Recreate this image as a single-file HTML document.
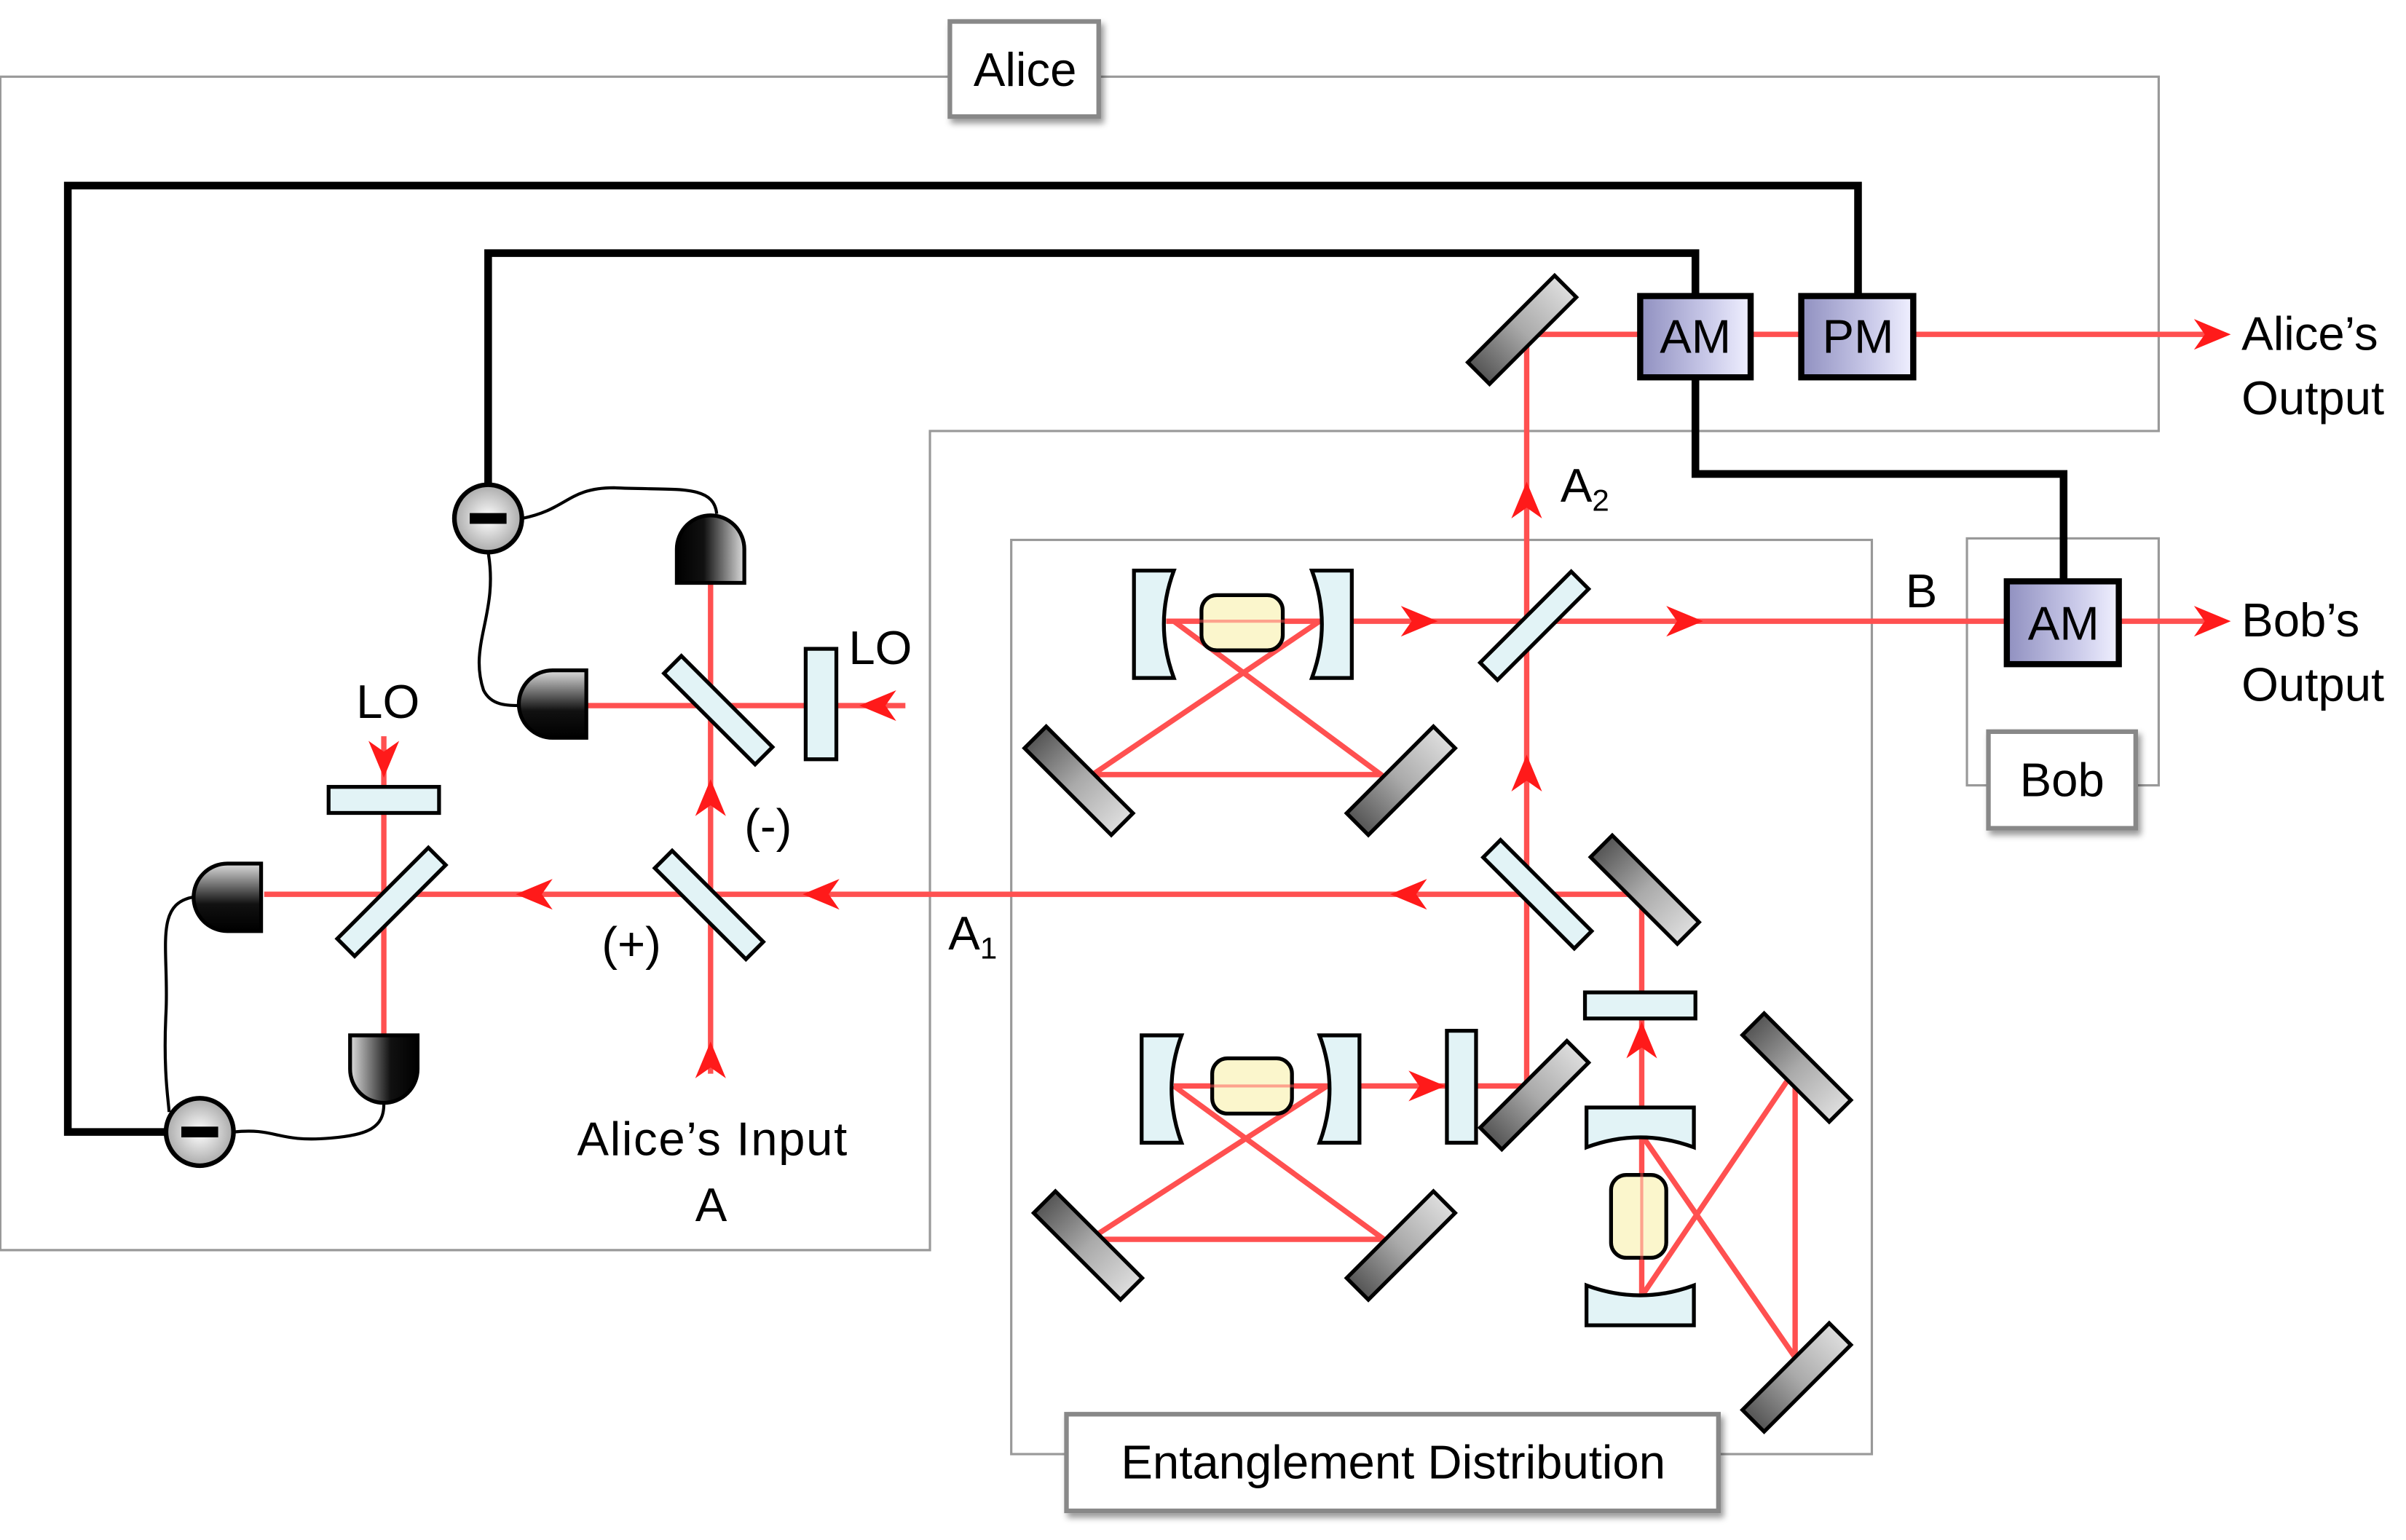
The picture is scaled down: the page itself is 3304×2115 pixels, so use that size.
<!DOCTYPE html>
<html><head><meta charset="utf-8"><style>html,body{margin:0;padding:0;background:#fff}svg{display:block}</style></head>
<body>
<svg width="3304" height="2115" viewBox="0 0 1568 1004" xmlns="http://www.w3.org/2000/svg" font-family="Liberation Sans, sans-serif">
<defs>
<linearGradient id="gm" x1="0" y1="0" x2="1" y2="0"><stop offset="0" stop-color="#555"/><stop offset="0.5" stop-color="#aaa"/><stop offset="1" stop-color="#ddd"/></linearGradient>
<linearGradient id="gam" x1="0" y1="0" x2="1" y2="0"><stop offset="0" stop-color="#9090c0"/><stop offset="0.6" stop-color="#c8c8e8"/><stop offset="1" stop-color="#f0f0ff"/></linearGradient>
<linearGradient id="gd" x1="0" y1="0" x2="1" y2="0"><stop offset="0" stop-color="#000"/><stop offset="0.4" stop-color="#111"/><stop offset="1" stop-color="#ddd"/></linearGradient>
<radialGradient id="gc"><stop offset="0" stop-color="#fff"/><stop offset="1" stop-color="#aaa"/></radialGradient>
<filter id="sh"><feDropShadow dx="2" dy="3" stdDeviation="2" flood-opacity="0.4"/></filter>
<g id="mir"><rect x="-40" y="-10" width="80" height="20" fill="url(#gm)" stroke="#000" stroke-width="2.5"/></g>
<g id="bs"><rect x="-42" y="-8" width="84" height="16" fill="#e2f3f6" stroke="#000" stroke-width="2.5"/></g>
<path id="ar" d="M2,0 L-22,-10 L-15,0 L-22,10 Z" fill="#ff1a1a"/>
<g id="det"><path d="M-22,22 L-22,0 A22,22 0 0 1 22,0 L22,22 Z" fill="url(#gd)" stroke="#000" stroke-width="2.5"/></g>
<g id="minus"><circle r="22" fill="url(#gc)" stroke="#000" stroke-width="3"/><rect x="-12" y="-3.5" width="24" height="7" fill="#000"/></g>
<g id="cavL"><path d="M-13,-35 L13,-35 Q0,0 13,35 L-13,35 Z" fill="#e2f3f6" stroke="#000" stroke-width="2.5"/></g>
<g id="cavR"><path d="M-13,-35 L13,-35 L13,35 L-13,35 Q0,0 -13,-35 Z" fill="#e2f3f6" stroke="#000" stroke-width="2.5"/></g>
</defs>

<path d="M0,50 H1407 V281 H606 V815 H0 Z" fill="none" stroke="#999" stroke-width="1.5"/>
<rect x="659" y="352" width="561" height="596" fill="none" stroke="#999" stroke-width="1.5"/>
<rect x="1282" y="351" width="125" height="161" fill="none" stroke="#999" stroke-width="1.5"/>

<g fill="none" stroke="#000" stroke-width="5">
<path d="M130,738 H44 V121 H1211 V195"/>
<path d="M318,315 V165 H1105 V195"/>
<path d="M1105,245 V309 H1345 V380"/>
</g>
<g fill="none" stroke="#000" stroke-width="2">
<path d="M340,338 C370,332 370,318 400,318 C440,320 465,315 467,335"/>
<path d="M318,360 C325,400 305,420 315,450 C320,460 330,460 340,460"/>
<path d="M125,585 C100,590 110,620 108,660 C106,700 110,720 110,725"/>
<path d="M152,738 C180,735 180,745 215,742 C240,740 250,735 250,720"/>
</g>

<g stroke="#ff5050" stroke-width="3.5" fill="none">
<path d="M995,218 H1440"/>
<path d="M995,218 V714"/>
<path d="M760,405 H1440"/>
<path d="M1072,583 H172"/>
<path d="M1070,583 V845"/>
<path d="M765,708 H998"/>
<path d="M463,380 V700"/>
<path d="M383,460 H590"/>
<path d="M250,480 V675"/>
<path d="M765,405 L900,505 H712 L860,405"/>
<path d="M765,708 L902,808 H710 L865,708"/>
<path d="M1070,740 L1170,885 V697 L1070,845"/>
</g>

<use href="#ar" transform="translate(1452,218)"/>
<use href="#ar" transform="translate(1452,405)"/>
<use href="#ar" transform="translate(935,405)"/>
<use href="#ar" transform="translate(1108,405)"/>
<use href="#ar" transform="translate(995,316) rotate(-90)"/>
<use href="#ar" transform="translate(995,494) rotate(-90)"/>
<use href="#ar" transform="translate(908,583) rotate(180)"/>
<use href="#ar" transform="translate(525,583) rotate(180)"/>
<use href="#ar" transform="translate(338,583) rotate(180)"/>
<use href="#ar" transform="translate(463,510) rotate(-90)"/>
<use href="#ar" transform="translate(463,681) rotate(-90)"/>
<use href="#ar" transform="translate(562,460) rotate(180)"/>
<use href="#ar" transform="translate(250,505) rotate(90)"/>
<use href="#ar" transform="translate(1070,668) rotate(-90)"/>
<use href="#ar" transform="translate(940,708)"/>

<use href="#mir" transform="translate(992,215) rotate(-45)"/>
<use href="#mir" transform="translate(703,509) rotate(45)"/>
<use href="#mir" transform="translate(913,509) rotate(-45)"/>
<use href="#mir" transform="translate(709,812) rotate(45)"/>
<use href="#mir" transform="translate(913,812) rotate(-45)"/>
<use href="#mir" transform="translate(1000,714) rotate(-45)"/>
<use href="#mir" transform="translate(1072,580) rotate(45)"/>
<use href="#mir" transform="translate(1171,696) rotate(45)"/>
<use href="#mir" transform="translate(1171,898) rotate(-45)"/>

<use href="#bs" transform="translate(1000,408) rotate(-45)"/>
<use href="#bs" transform="translate(1002,583) rotate(45)"/>
<use href="#bs" transform="translate(468,463) rotate(45)"/>
<use href="#bs" transform="translate(462,590) rotate(45)"/>
<use href="#bs" transform="translate(255,588) rotate(-45)"/>

<rect x="943" y="672" width="19" height="73" fill="#e2f3f6" stroke="#000" stroke-width="2.5"/>
<rect x="1033" y="647" width="72" height="17" fill="#e2f3f6" stroke="#000" stroke-width="2.5"/>
<rect x="525" y="423" width="20" height="72" fill="#e2f3f6" stroke="#000" stroke-width="2.5"/>
<rect x="214" y="513" width="72" height="17" fill="#e2f3f6" stroke="#000" stroke-width="2.5"/>

<use href="#cavL" transform="translate(752,407)"/>
<use href="#cavR" transform="translate(868,407)"/>
<rect x="783" y="388" width="53" height="36" rx="10" fill="#fbf6cc" stroke="#000" stroke-width="2.5"/>
<use href="#cavL" transform="translate(757,710)"/>
<use href="#cavR" transform="translate(873,710)"/>
<rect x="790" y="690" width="52" height="36" rx="10" fill="#fbf6cc" stroke="#000" stroke-width="2.5"/>
<use href="#cavL" transform="translate(1069,735) rotate(90)"/>
<use href="#cavR" transform="translate(1069,851) rotate(90)"/>
<rect x="1050" y="766" width="36" height="54" rx="10" fill="#fbf6cc" stroke="#000" stroke-width="2.5"/>
<path d="M1070,745 V840 M765,405 H860 M768,708 H865" stroke="#ff5050" stroke-width="2" opacity="0.5"/>

<use href="#det" transform="translate(463,358)"/>
<use href="#det" transform="translate(360,459) rotate(-90)"/>
<use href="#det" transform="translate(148,585) rotate(-90)"/>
<use href="#det" transform="translate(250,697) rotate(180)"/>
<use href="#minus" transform="translate(318,338)"/>
<use href="#minus" transform="translate(130,738)"/>

<rect x="1069" y="193" width="72" height="53" fill="url(#gam)" stroke="#000" stroke-width="4"/>
<rect x="1174" y="193" width="73" height="53" fill="url(#gam)" stroke="#000" stroke-width="4"/>
<rect x="1308" y="379" width="73" height="54" fill="url(#gam)" stroke="#000" stroke-width="4"/>
<g font-size="31" text-anchor="middle">
<text x="1105" y="230">AM</text><text x="1211" y="230">PM</text><text x="1345" y="417">AM</text>
</g>

<g filter="url(#sh)" fill="#fff" stroke="#888" stroke-width="3">
<rect x="619" y="14" width="97" height="62"/>
<rect x="695" y="922" width="425" height="63"/>
<rect x="1296" y="477" width="96" height="63"/>
</g>
<g font-size="31" text-anchor="middle">
<text x="668" y="56">Alice</text>
<text x="908" y="964">Entanglement Distribution</text>
<text x="1344" y="519">Bob</text>
</g>

<g font-size="31">
<text x="1461" y="228">Alice’s</text><text x="1461" y="270">Output</text>
<text x="1461" y="415">Bob’s</text><text x="1461" y="457">Output</text>
<text x="1017" y="327">A<tspan font-size="20" dy="6">2</tspan></text>
<text x="1242" y="396">B</text>
<text x="618" y="619">A<tspan font-size="20" dy="6">1</tspan></text>
<text x="553" y="433">LO</text>
<text x="232" y="468">LO</text>
<text x="485" y="549">(-)</text>
<text x="392" y="626">(+)</text>
<text x="376" y="753" textLength="176">Alice’s Input</text>
<text x="453" y="796">A</text>
</g>
</svg>
</body></html>
